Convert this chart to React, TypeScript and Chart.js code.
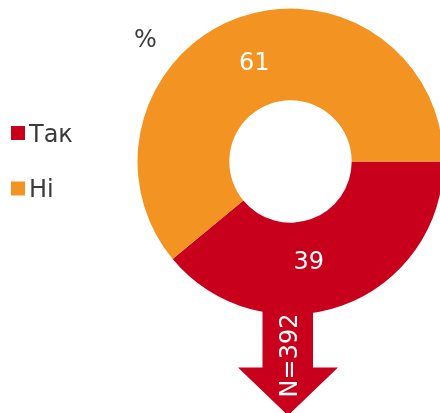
import React, { useEffect, useRef } from "react";
import { Chart, registerables } from "chart.js";

Chart.register(...registerables);

const categories = ["Так", "Ні"];
const values = [39, 61];
const sampleLabel = "N=392";
const unitLabel = "%";

const COLORS = ["#C8001C", "#F39322"];
const FONT = "'DejaVu Sans', Verdana, sans-serif";
const TEXT = "#3a3a3a";
const labelNudge = [
  [-18, -1.5],
  [0, 1],
];

const overlay = {
  id: "overlay",
  afterDatasetsDraw(chart: any) {
    const ctx = chart.ctx as CanvasRenderingContext2D;
    const meta = chart.getDatasetMeta(0);
    const first = meta.data[0] as any;
    const cx = first.x;
    const cy = first.y;
    const R = first.outerRadius;
    ctx.save();
    // arrow
    const ax = cx - 2.5;
    ctx.fillStyle = COLORS[0];
    ctx.beginPath();
    ctx.moveTo(ax - 25.5, cy + R * 0.8);
    ctx.lineTo(ax + 25, cy + R * 0.8);
    ctx.lineTo(ax + 25, cy + 206);
    ctx.lineTo(ax + 50, cy + 206);
    ctx.lineTo(ax, cy + 254);
    ctx.lineTo(ax - 50, cy + 206);
    ctx.lineTo(ax - 25.5, cy + 206);
    ctx.closePath();
    ctx.fill();
    // N label
    ctx.font = `24px ${FONT}`;
    ctx.fillStyle = "#ffffff";
    ctx.save();
    ctx.translate(ax + 9, cy + 194);
    ctx.rotate(-Math.PI / 2);
    ctx.textAlign = "center";
    ctx.textBaseline = "alphabetic";
    ctx.fillText(sampleLabel, 0, 0);
    ctx.restore();
    // value labels
    meta.data.forEach((arc: any, i: number) => {
      const mid = (arc.startAngle + arc.endAngle) / 2;
      const r = (arc.innerRadius + arc.outerRadius) / 2;
      const x = arc.x + Math.cos(mid) * r + labelNudge[i][0];
      const y = arc.y + Math.sin(mid) * r + labelNudge[i][1];
      ctx.textAlign = "center";
      ctx.textBaseline = "alphabetic";
      ctx.fillStyle = "#ffffff";
      ctx.fillText(String(values[i]), x, y + 8.7);
    });
    // unit
    ctx.fillStyle = TEXT;
    ctx.textAlign = "left";
    ctx.fillText(unitLabel, 134, 47);
    // legend
    const legendY = [141.5, 197];
    categories.forEach((c, i) => {
      ctx.fillStyle = COLORS[i];
      ctx.fillRect(11, legendY[i] - 15.5, 14, 14);
      ctx.fillStyle = TEXT;
      ctx.fillText(c, 29, legendY[i]);
    });
    ctx.restore();
  },
};

export default function App() {
  const ref = useRef<HTMLCanvasElement>(null);
  useEffect(() => {
    if (!ref.current) return;
    const chart = new Chart(ref.current, {
      type: "doughnut",
      data: {
        labels: categories,
        datasets: [
          {
            data: values,
            backgroundColor: COLORS,
            borderWidth: 0,
            hoverOffset: 0,
          },
        ],
      },
      options: {
        responsive: false,
        animation: false,
        devicePixelRatio: 1,
        rotation: 90,
        cutout: "40%",
        layout: { padding: { left: 137.5, right: 4.5, top: 8.5, bottom: 98.5 } },
        plugins: {
          legend: { display: false },
          tooltip: { enabled: false },
        },
      },
      plugins: [overlay],
    });
    return () => chart.destroy();
  }, []);
  return (
    <div
      style={{
        position: "fixed",
        left: 0,
        top: 0,
        width: 440,
        height: 413,
        overflow: "hidden",
        background: "#ffffff",
      }}
    >
      <canvas ref={ref} width={448} height={413} style={{ width: 448, height: 413, display: "block" }} />
    </div>
  );
}
